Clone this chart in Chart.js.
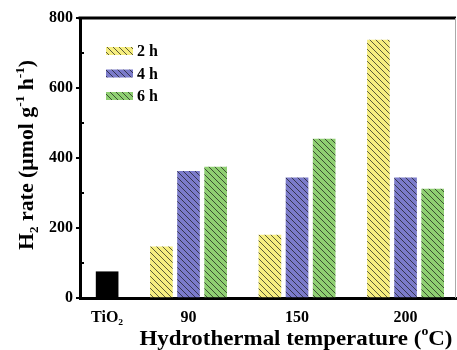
<!DOCTYPE html>
<html><head><meta charset="utf-8">
<script src="https://cdn.jsdelivr.net/npm/chart.js@4"></script>
<style>html,body{margin:0;padding:0;background:#fff}#wrap{width:457px;height:350px;position:relative}</style>
</head><body><div id="wrap"><canvas id="c"></canvas></div>
<script>
// ---- data ----
const categories = ['TiO₂', '90', '150', '200'];
const categoryPositions = [1, 4, 8, 12];
const seriesLabels = ['2 h', '4 h', '6 h'];
const seriesOffsets = [-1, 0, 1];
const tio2Rate = [75];
const rate2h = [146, 180, 737];
const rate4h = [362, 343, 343];
const rate6h = [374, 454, 311];
const yTicks = [0, 200, 400, 600, 800];
const yMinorTicks = [100, 300, 500, 700];
const seriesColors = ['#f6ee80', '#7b7bca', '#8fcf72'];

const FONT = "'Liberation Serif', 'Times New Roman', serif";

function hatch(color) {
  const s = 6;
  const c = document.createElement('canvas');
  c.width = s; c.height = s;
  const g = c.getContext('2d');
  g.fillStyle = color; g.fillRect(0, 0, s, s);
  g.strokeStyle = 'rgba(20,20,20,0.8)';
  g.lineWidth = 0.85;
  g.beginPath();
  g.moveTo(-1, -1); g.lineTo(s + 1, s + 1);
  g.moveTo(-1, s - 1); g.lineTo(1, s + 1);
  g.moveTo(s - 1, -1); g.lineTo(s + 1, 1);
  g.stroke();
  return g.createPattern(c, 'repeat');
}

const groupSeries = [rate2h, rate4h, rate6h];
const datasets = [{
  label: 'TiO2',
  data: tio2Rate.map(v => ({ x: categoryPositions[0], y: v })),
  backgroundColor: '#000',
  legendHidden: true
}];
groupSeries.forEach((vals, si) => {
  datasets.push({
    label: seriesLabels[si],
    data: vals.map((v, i) => ({ x: categoryPositions[i + 1] + seriesOffsets[si], y: v })),
    backgroundColor: hatch(seriesColors[si])
  });
});

function drawRich(ctx, parts, cx, baseY, target) {
  let w = 0;
  parts.forEach(p => { ctx.font = p[1]; w += ctx.measureText(p[0]).width; });
  const k = target / w;
  ctx.save();
  ctx.translate(cx, baseY);
  ctx.scale(k, 1);
  let x = -w / 2;
  ctx.textBaseline = 'alphabetic';
  ctx.textAlign = 'left';
  parts.forEach(p => { ctx.font = p[1]; ctx.fillText(p[0], x, p[2]); x += ctx.measureText(p[0]).width; });
  ctx.restore();
}

const decor = {
  id: 'decor',
  afterDraw(chart) {
    const ctx = chart.ctx;
    const a = chart.chartArea;
    const ys = chart.scales.y;
    ctx.save();
    // frame
    ctx.strokeStyle = '#000';
    ctx.lineWidth = 3;
    ctx.beginPath();
    ctx.moveTo(a.left - 1.5, a.top); ctx.lineTo(a.right, a.top);
    ctx.stroke();
    ctx.strokeStyle = '#aaa';
    ctx.lineWidth = 1;
    ctx.beginPath();
    ctx.moveTo(a.right - 0.5, a.top); ctx.lineTo(a.right - 0.5, a.bottom);
    ctx.stroke();
    // minor ticks (inward)
    ctx.strokeStyle = '#000';
    ctx.lineWidth = 2;
    yMinorTicks.forEach(v => {
      const py = ys.getPixelForValue(v);
      ctx.beginPath(); ctx.moveTo(a.left, py); ctx.lineTo(a.left + 4, py); ctx.stroke();
    });
    // legend
    ctx.font = 'bold 16px ' + FONT;
    ctx.textBaseline = 'middle';
    ctx.textAlign = 'left';
    let ly = 51;
    chart.data.datasets.forEach(ds => {
      if (ds.legendHidden) return;
      ctx.fillStyle = ds.backgroundColor;
      ctx.fillRect(106, ly - 4, 27, 8);
      ctx.fillStyle = '#000';
      ctx.fillText(ds.label, 137, ly + 1);
      ly += 22.5;
    });
    ctx.fillStyle = '#000';
    const big = 'bold 20px ' + FONT, small = 'bold 12px ' + FONT;
    // y title
    ctx.save();
    ctx.translate(33, 155);
    ctx.rotate(-Math.PI / 2);
    drawRich(ctx, [
      ['H', big, 0], ['2', small, 5], [' rate (μmol g', big, 0], ['-1', small, -9],
      [' h', big, 0], ['-1', small, -9], [')', big, 0]
    ], 0, 0, 190);
    ctx.restore();
    // x title
    drawRich(ctx, [['Hydrothermal temperature (', big, 0], ['o', small, -10], ['C)', big, 0]], 296, 345, 313);
    ctx.restore();
  }
};

new Chart(document.getElementById('c'), {
  type: 'bar',
  data: { datasets },
  options: {
    responsive: true,
    maintainAspectRatio: false,
    animation: false,
    layout: { padding: { top: 18, right: 1, left: 0, bottom: 0 } },
    datasets: { bar: { grouped: false, barThickness: 22 } },
    plugins: { legend: { display: false }, tooltip: { enabled: false } },
    scales: {
      x: {
        type: 'linear', min: 0, max: 13.86, offset: false,
        afterFit(s) { s.height = 52; },
        afterBuildTicks(s) { s.ticks = categoryPositions.map(v => ({ value: v })); },
        grid: { display: false, drawTicks: false, offset: false },
        border: { display: true, color: '#000', width: 3 },
        ticks: {
          padding: 10,
          color: '#000',
          font: { family: FONT, weight: 'bold', size: 16 },
          callback: (v) => categories[categoryPositions.indexOf(v)]
        }
      },
      y: {
        min: 0, max: 800,
        afterFit(s) { s.width = 80; },
        afterBuildTicks(s) { s.ticks = yTicks.map(v => ({ value: v })); },
        grid: { drawOnChartArea: false, drawTicks: true, tickLength: 4, color: '#000', lineWidth: 2 },
        border: { display: true, color: '#000', width: 3 },
        ticks: {
          padding: 3,
          color: '#000',
          font: { family: FONT, weight: 'bold', size: 16 }
        }
      }
    }
  },
  plugins: [decor]
});
</script></body></html>
